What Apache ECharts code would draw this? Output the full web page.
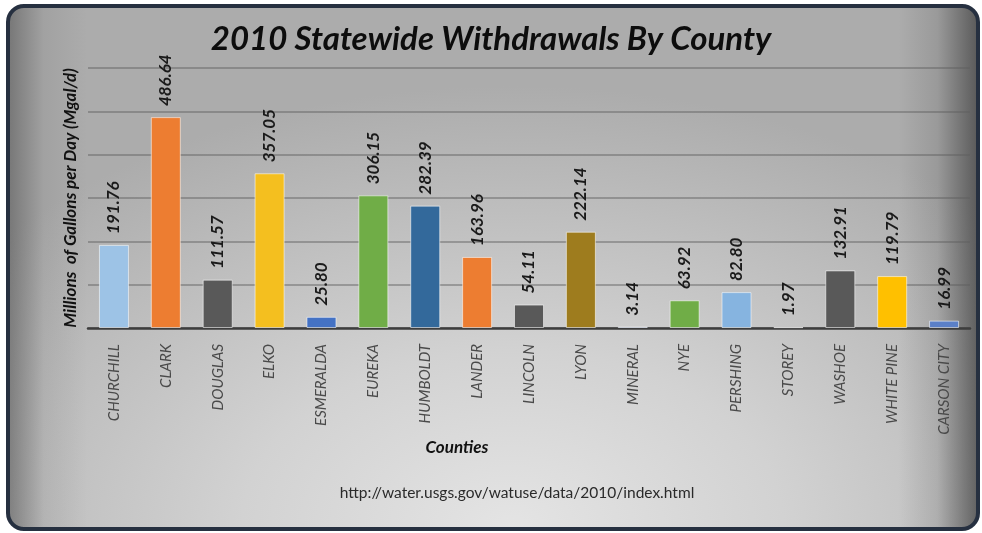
<!DOCTYPE html>
<html>
<head>
<meta charset="utf-8">
<script src="https://cdn.jsdelivr.net/npm/echarts@6/dist/echarts.min.js"></script>
<style>
  html, body { margin: 0; padding: 0; background: #ffffff; }
  #wrap { position: relative; width: 982px; height: 533px; overflow: hidden; }
  #frame {
    position: absolute; left: 6px; top: 4px; width: 966px; height: 519px;
    border: 4px solid #263040; border-radius: 18px;
    background:
      linear-gradient(to right, rgba(70,70,70,0.5) 0%, rgba(70,70,70,0.1) 3.5%, rgba(0,0,0,0) 8%, rgba(0,0,0,0) 92%, rgba(50,50,50,0.15) 96%, rgba(40,40,40,0.6) 100%),
      radial-gradient(ellipse 70% 85% at 52% 100%, #e4e4e4 0%, #d2d2d2 40%, #bcbcbc 75%, #acacac 100%);
  }
  #chart { position: absolute; left: 0; top: 0; width: 982px; height: 533px; }
</style>
</head>
<body>
<div id="wrap">
  <div id="frame"></div>
  <div id="chart"></div>
</div>
<script>
// Nevada counties, 2010 water withdrawals (Mgal/d)
const counties = ['CHURCHILL', 'CLARK', 'DOUGLAS', 'ELKO', 'ESMERALDA', 'EUREKA', 'HUMBOLDT', 'LANDER',
  'LINCOLN', 'LYON', 'MINERAL', 'NYE', 'PERSHING', 'STOREY', 'WASHOE', 'WHITE PINE', 'CARSON CITY'];
const withdrawals = [191.76, 486.64, 111.57, 357.05, 25.80, 306.15, 282.39, 163.96,
  54.11, 222.14, 3.14, 63.92, 82.80, 1.97, 132.91, 119.79, 16.99];
const barColors = ['#9dc3e6', '#ed7d31', '#595959', '#f4bf1f', '#4472c4', '#70ad47', '#33699b', '#ed7d31',
  '#595959', '#9e7c1e', '#2f5597', '#70ad47', '#86b4e0', '#595959', '#595959', '#ffc000', '#5b80c8'];

const titleText = '2010 Statewide Withdrawals By County';
const yName = 'Millions  of Gallons per Day (Mgal/d)';
const xName = 'Counties';
const sourceText = 'http://water.usgs.gov/watuse/data/2010/index.html';

const FONT = 'Lato, "Open Sans", sans-serif';

const chart = echarts.init(document.getElementById('chart'), null, { renderer: 'canvas' });
chart.setOption({
  backgroundColor: 'transparent',
  animation: false,
  title: {
    text: titleText,
    left: 'center',
    top: 18,
    textStyle: { fontFamily: FONT, fontSize: 33, fontWeight: 'bold', fontStyle: 'italic', color: '#0d0d0d' }
  },
  grid: { left: 88, right: 12, top: 68, bottom: 205, containLabel: false },
  xAxis: {
    type: 'category',
    data: counties,
    axisLine: { lineStyle: { color: '#3d3d3d', width: 2.5 } },
    axisTick: { show: false },
    axisLabel: {
      rotate: 90, margin: 16, interval: 0,
      fontFamily: FONT, fontSize: 15, fontStyle: 'italic', color: '#4a4a4a'
    }
  },
  yAxis: {
    type: 'value',
    min: 0, max: 600, interval: 100,
    name: yName,
    nameLocation: 'middle',
    nameGap: 9,
    nameTextStyle: { fontFamily: FONT, fontSize: 17, fontWeight: 'bold', fontStyle: 'italic', color: '#111' },
    axisLabel: { show: false },
    axisLine: { show: false },
    axisTick: { show: false },
    splitLine: { lineStyle: { color: 'rgba(95,95,95,0.6)', width: 1.5 } }
  },
  series: [{
    type: 'bar',
    data: withdrawals.map((v, i) => ({ value: v, itemStyle: { color: barColors[i] } })),
    barWidth: 30,
    itemStyle: { borderColor: 'rgba(255,255,255,0.55)', borderWidth: 1 },
    label: {
      show: true,
      position: 'top',
      rotate: 90,
      align: 'left',
      verticalAlign: 'middle',
      distance: 11,
      formatter: p => p.value.toFixed(2),
      fontFamily: FONT, fontSize: 17, fontWeight: 'bold', fontStyle: 'italic', color: '#1a1a1a'
    }
  }],
  graphic: [
    {
      type: 'text', x: 457, y: 448,
      style: { text: xName, align: 'center', verticalAlign: 'middle',
        fontFamily: FONT, fontSize: 17, fontWeight: 'bold', fontStyle: 'italic', fill: '#111' }
    },
    {
      type: 'text', x: 517, y: 493,
      style: { text: sourceText, align: 'center', verticalAlign: 'middle',
        fontFamily: FONT, fontSize: 15.5, fill: '#2a2a2a' }
    }
  ]
});
</script>
</body>
</html>
